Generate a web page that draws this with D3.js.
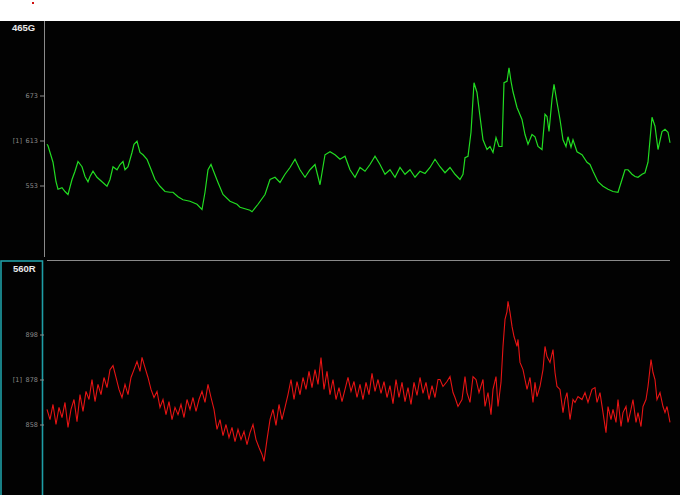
<!DOCTYPE html>
<html><head><meta charset="utf-8">
<script src="https://cdn.jsdelivr.net/npm/d3@7"></script>
<style>html,body{margin:0;padding:0;background:#fff;}svg{display:block;}</style>
</head><body>
<svg id="c" width="680" height="495"></svg>
<script>
const channelNames = ["465G", "560R"];
const greenTicks = [673, 613, 553];
const redTicks = [898, 878, 858];
const tickPrefix = "[1]";
const frameCount = 623;

const greenSeries = [[0,608],[1,606],[6,584],[9,558],[11,548],[15,550],[18,545],[21,541],[25,561],[28,572],[31,585],[35,578],[38,565],[41,558],[43,565],[46,572],[50,564],[55,558],[60,552],[63,561],[66,578],[70,574],[73,581],[76,585],[78,574],[81,578],[85,597],[87,608],[90,612],[93,597],[96,594],[100,588],[103,578],[108,561],[113,552],[118,545],[123,544],[126,544],[131,538],[136,534],[143,532],[150,528],[155,521],[158,544],[161,574],[164,581],[166,574],[171,557],[176,541],[183,532],[190,528],[193,524],[198,522],[203,520],[205,518],[211,528],[218,541],[223,561],[228,564],[233,557],[238,568],[243,577],[248,588],[253,574],[258,564],[263,574],[268,581],[273,554],[278,594],[283,598],[288,594],[293,588],[298,592],[303,574],[308,564],[313,577],[318,572],[323,581],[328,592],[333,581],[338,568],[343,574],[348,564],[353,577],[358,568],[363,574],[368,564],[373,572],[378,569],[383,577],[388,588],[393,578],[398,570],[403,577],[408,568],[413,561],[416,568],[418,590],[421,592],[424,624],[427,690],[430,677],[433,645],[436,614],[440,601],[443,605],[446,597],[449,617],[452,605],[455,605],[457,690],[460,692],[462,710],[464,692],[466,678],[470,657],[475,641],[478,621],[481,608],[485,621],[488,618],[491,605],[495,601],[498,648],[500,645],[502,625],[505,668],[507,688],[510,664],[513,641],[516,614],[519,605],[521,618],[524,604],[526,614],[530,598],[535,594],[540,584],[543,581],[546,572],[551,558],[556,552],[561,548],[566,545],[571,544],[575,561],[578,574],[581,574],[585,568],[588,565],[591,564],[595,568],[598,570],[601,584],[605,644],[608,632],[611,601],[615,625],[618,628],[621,624],[623,610]];

const redSeries = [[0,864.7],[3,860.2],[6,866.9],[9,858],[12,865.6],[15,861.1],[18,867.8],[21,856.7],[24,864.7],[27,869.1],[30,859.3],[33,871.3],[36,863.8],[39,872.7],[42,869.1],[45,878],[48,868.2],[51,875.8],[54,871.3],[57,878.9],[60,874.4],[63,882.4],[66,884.2],[69,878.9],[72,873.6],[75,870],[78,875.8],[81,871.3],[84,878.9],[87,882.4],[90,886],[93,881.6],[95,887.8],[98,883.3],[101,878.9],[104,873.6],[107,870],[110,872.7],[113,865.6],[116,869.1],[119,862.4],[122,868.2],[125,860.2],[128,865.6],[131,862.4],[134,866.9],[137,861.1],[140,869.1],[143,864.7],[146,870],[149,863.8],[152,869.1],[155,872.7],[158,867.8],[161,875.8],[164,870],[167,864.7],[170,855.8],[173,860.2],[176,853.1],[179,858],[182,852.2],[185,856.7],[188,850.4],[191,855.8],[194,851.3],[197,854.9],[200,849.1],[203,854.4],[206,858],[209,851.3],[212,847.8],[215,844.7],[217,841.6],[220,851.3],[223,860.2],[226,864.7],[229,857.6],[232,866.9],[235,860.2],[238,865.6],[241,871.3],[244,878],[247,869.1],[250,877.1],[253,871.3],[256,878.9],[259,873.6],[262,881.6],[265,874.4],[268,882.4],[271,875.8],[274,887.8],[277,873.6],[280,881.6],[283,871.3],[286,878],[289,869.1],[292,874.4],[295,868.2],[298,873.6],[301,878.9],[304,872.7],[307,877.1],[310,870],[313,875.8],[316,869.1],[319,876.7],[322,871.3],[325,880.7],[328,872.7],[331,878],[334,871.8],[337,877.1],[340,870],[343,875.3],[346,867.3],[349,878],[352,870],[355,876.7],[358,868.2],[361,874.4],[364,866.9],[367,876.7],[370,870.9],[373,878.9],[376,871.8],[379,876.7],[382,869.1],[385,875.3],[388,870],[391,878],[393,878],[396,874.9],[400,877.1],[403,879.3],[406,872.2],[408,870],[411,866],[415,869.1],[418,879.3],[420,872.2],[423,867.8],[426,879.3],[429,878],[432,872.2],[436,878],[438,866],[441,872.2],[444,862.4],[446,873.6],[449,879.3],[451,866],[454,876.7],[456,892.7],[458,904.7],[460,908.2],[461,912.7],[463,907.8],[465,901.6],[467,897.1],[470,892.7],[471,895.8],[473,885.6],[476,882.4],[478,878],[480,873.6],[483,878.9],[486,867.8],[488,876.7],[490,870.4],[493,874.9],[496,882.4],[498,892.7],[500,888.2],[503,885.6],[506,891.3],[508,881.1],[510,874.9],[513,873.6],[516,863.3],[518,869.1],[520,872.2],[523,860.2],[526,869.1],[528,867.8],[531,870.4],[535,869.1],[538,872.2],[541,867.8],[545,873.6],[548,874.4],[550,867.8],[553,872.2],[556,863.3],[559,854.4],[561,866],[564,860.2],[566,864.7],[569,858.9],[571,869.1],[574,857.1],[576,863.3],[579,866],[581,858.9],[584,864.7],[586,869.1],[589,858.9],[591,863.3],[594,857.1],[596,866],[599,869.1],[601,874.9],[604,886.9],[606,881.1],[608,878],[610,869.1],[613,872.2],[616,866],[618,863.3],[620,866],[623,858.9]];

const svg = d3.select("#c");
const W = 680, H = 495;
const top0 = 21, axisX = 44, sepY = 260;

svg.append("rect").attr("x",0).attr("y",0).attr("width",W).attr("height",top0).attr("fill","#ffffff");
svg.append("rect").attr("x",0).attr("y",top0).attr("width",W).attr("height",H-top0).attr("fill","#020202");
svg.append("rect").attr("x",32).attr("y",2).attr("width",2).attr("height",2).attr("fill","#d01010");

const x = d3.scaleLinear().domain([0, frameCount]).range([47, 670]);
const yG = d3.scaleLinear().domain([553, 673]).range([185.5, 95.5]);
const yR = d3.scaleLinear().domain([858, 898]).range([424.5, 334.5]);

svg.append("line").attr("x1",axisX+0.5).attr("x2",axisX+0.5).attr("y1",top0).attr("y2",257).attr("stroke","#8a8a8a").attr("stroke-width",1);
svg.append("line").attr("x1",47).attr("x2",670).attr("y1",sepY+0.5).attr("y2",sepY+0.5).attr("stroke","#8a8a8a").attr("stroke-width",1);
svg.append("rect").attr("x",1).attr("y",sepY+1).attr("width",41.5).attr("height",H-sepY+4)
  .attr("fill","none").attr("stroke","#1e9ea6").attr("stroke-width",1.6);

function drawAxis(scale, ticks) {
  const g = svg.append("g").attr("transform", `translate(${axisX},0)`)
    .call(d3.axisLeft(scale).tickValues(ticks).tickSize(4).tickPadding(2));
  g.select(".domain").remove();
  g.selectAll(".tick line").attr("stroke","#8a8a8a");
  g.selectAll(".tick text").attr("fill","#8a8a8a").attr("font-size","6.5px")
    .attr("font-family","'DejaVu Sans', sans-serif");
  g.selectAll(".tick").filter((d,i)=>i===1).append("text")
    .attr("x",-22).attr("dy","0.32em").attr("text-anchor","end")
    .attr("fill","#8a8a8a").attr("font-size","6.5px").attr("font-family","'DejaVu Sans', sans-serif")
    .text(tickPrefix);
}
drawAxis(yG, greenTicks);
drawAxis(yR, redTicks);

svg.append("text").attr("x",12).attr("y",31).attr("fill","#e8e8e8").attr("font-weight","bold")
  .attr("font-size","9.5px").attr("font-family","'Liberation Sans', Arial, sans-serif").text(channelNames[0]);
svg.append("text").attr("x",13).attr("y",272).attr("fill","#e8e8e8").attr("font-weight","bold")
  .attr("font-size","9.5px").attr("font-family","'Liberation Sans', Arial, sans-serif").text(channelNames[1]);

const lineG = d3.line().x(d=>x(d[0])).y(d=>yG(d[1]));
const lineR = d3.line().x(d=>x(d[0])).y(d=>yR(d[1]));
svg.append("path").datum(greenSeries).attr("d",lineG).attr("fill","none").attr("stroke","#22dc22").attr("stroke-width",1.2);
svg.append("path").datum(redSeries).attr("d",lineR).attr("fill","none").attr("stroke","#e51414").attr("stroke-width",1.1);
</script>
</body></html>
